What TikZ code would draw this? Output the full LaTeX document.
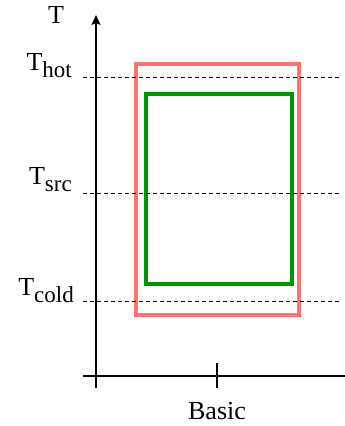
\documentclass[tikz,border=0pt]{standalone}
\usepackage{fontspec}
\newfontfamily\plotfont{Liberation Serif}
\usetikzlibrary{arrows.meta}
\definecolor{boxR}{RGB}{255,112,112}
\definecolor{boxG}{RGB}{0,150,0}
\newcommand{\lowsub}[1]{\raisebox{-7pt}{\fontsize{23}{23}\selectfont #1}}

\begin{document}
\begin{tikzpicture}[x=1pt,y=-1pt,font=\plotfont\fontsize{26}{28}\selectfont]
  \tikzset{lvl/.style={anchor=base east,inner sep=0pt},
    guide/.style={dash pattern=on 4pt off 3pt,line width=0.9pt},
    axis/.style={line width=1.3pt}}
  \useasboundingbox (0,0) rectangle (345,426);
  % temperature ranges
  \draw[boxR,line width=4pt] (136,64) rectangle (299,315);
  \draw[boxG,line width=4pt] (146,94) rectangle (292,284);
  % levels
  \coordinate (hotL) at (83,77);   \coordinate (hotR) at (341,77);
  \coordinate (srcL) at (83,193);  \coordinate (srcR) at (341,193);
  \coordinate (coldL) at (83,301); \coordinate (coldR) at (341,301);
  \draw[guide] (hotL) -- (hotR);
  \draw[guide] (srcL) -- (srcR);
  \draw[guide] (coldL) -- (coldR);
  \node[lvl] (thot) at (72,70) {T\lowsub{hot}};
  \node[lvl] (tsrc) at (72,184) {T\lowsub{src}};
  \node[lvl] (tcold) at (74,295) {T\lowsub{cold}};
  % axes
  \coordinate (ybot) at (96,388); \coordinate (ytop) at (96,15);
  \coordinate (xl) at (83,376);   \coordinate (xr) at (345,376);
  \coordinate (tkt) at (217,363); \coordinate (tkb) at (217,388);
  \draw[axis,-{Stealth[length=10pt,width=9pt,inset=2pt]}] (ybot) -- (ytop);
  \draw[axis] (xl) -- (xr);
  \draw[axis] (tkt) -- (tkb);
  \node[anchor=base,inner sep=0pt] (ylab) at (56,23) {T};
  \node[anchor=base,inner sep=0pt] (xlab) at (217,419) {Basic};
\end{tikzpicture}
\end{document}
